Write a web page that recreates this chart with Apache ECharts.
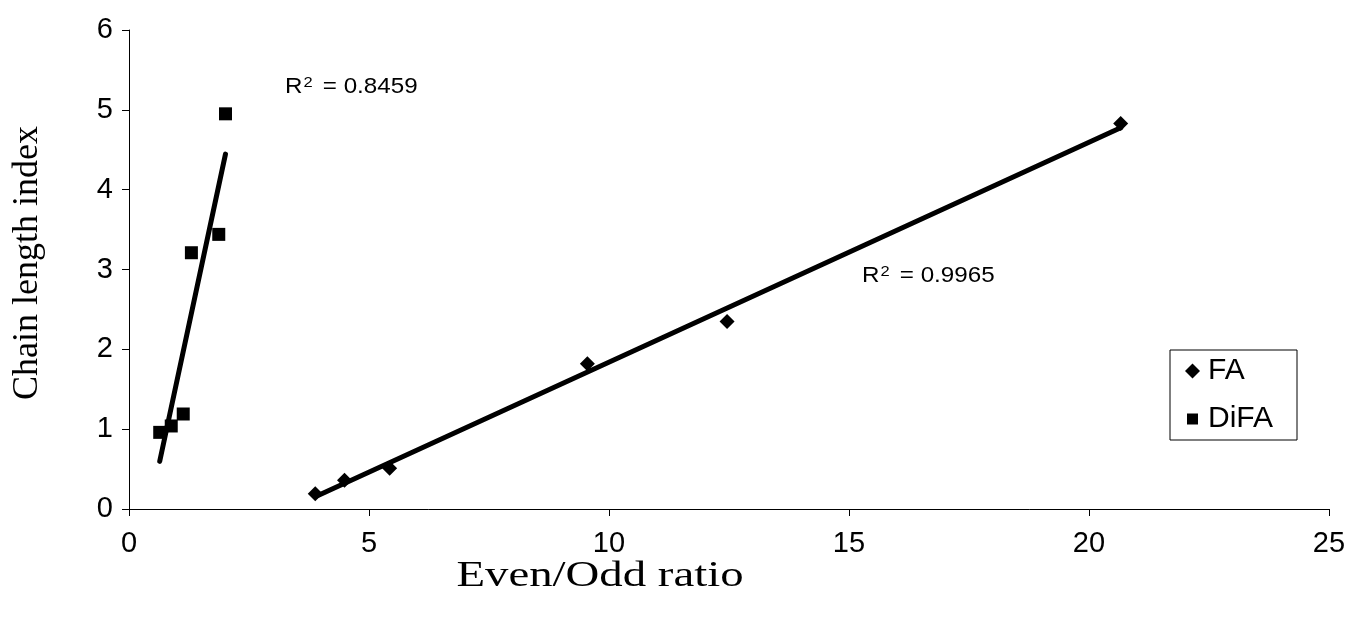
<!DOCTYPE html>
<html lang="en">
<head>
    <meta charset="UTF-8">
    <title>Chain length index vs Even/Odd ratio</title>
    <style>
        html, body { margin: 0; height: 100%; background: #fff; }
        #container { width: 1351px; height: 618px; }
    </style>
</head>
<body>
    <div id="container"></div>
    <script src="https://cdn.jsdelivr.net/npm/echarts@6/dist/echarts.min.js"></script>
    <script>
        // values
        var faX = [3.88, 4.49, 5.43, 9.55, 12.46, 20.66];
        var faY = [0.19, 0.36, 0.51, 1.82, 2.35, 4.83];
        var difaX = [0.64, 0.88, 1.13, 1.30, 1.87, 2.01];
        var difaY = [0.96, 1.04, 1.19, 3.21, 3.44, 4.95];
        var xTicks = [0, 5, 10, 15, 20, 25];
        var yTicks = [0, 1, 2, 3, 4, 5, 6];
        var r2Values = ['0.8459', '0.9965'];

        function pairs(xs, ys) {
            return xs.map(function (x, i) { return [x, ys[i]]; });
        }

        // linear least squares trendline between min and max x
        function trend(xs, ys) {
            var n = xs.length, mx = 0, my = 0;
            xs.forEach(function (x, i) { mx += x; my += ys[i]; });
            mx /= n; my /= n;
            var sxy = 0, sxx = 0;
            xs.forEach(function (x, i) { sxy += (x - mx) * (ys[i] - my); sxx += (x - mx) * (x - mx); });
            var b = sxy / sxx, a = my - b * mx;
            var x0 = Math.min.apply(null, xs), x1 = Math.max.apply(null, xs);
            return [[x0, a + b * x0], [x1, a + b * x1]];
        }

        var sans = 'Liberation Sans, Arial';
        var serif = 'Liberation Serif, Times New Roman';

        // the scanned figure is a bit stretched sideways, hence scaleX
        function r2Text(x, y, val) {
            return {
                type: 'text', x: x, y: y, scaleX: 1.1,
                style: {
                    text: '{r|R}{s|2}{r| = ' + val + '}',
                    rich: {
                        r: { fontSize: 22, lineHeight: 28, fill: '#000', fontFamily: sans },
                        s: { fontSize: 15, lineHeight: 16, verticalAlign: 'top', fill: '#000', fontFamily: sans, padding: [2, 3, 0, 1] }
                    }
                }
            };
        }

        var chart = echarts.init(document.getElementById('container'));

        var option = {
            animation: false,
            backgroundColor: '#fff',
            grid: { left: 129, right: 22, top: 30, bottom: 109 },
            legend: {
                data: [
                    { name: 'FA', icon: 'diamond', itemStyle: { color: '#000' } },
                    // small square inside a 15x15 box
                    { name: 'DiFA', icon: 'path://M0,0M15,15M2,2L13,2L13,13L2,13Z', itemStyle: { color: '#000' } }
                ],
                orient: 'vertical',
                left: 1170,
                top: 350,
                padding: [6, 24, 6, 15],
                itemGap: 18,
                itemWidth: 15,
                itemHeight: 15,
                borderColor: '#000',
                borderWidth: 1,
                borderRadius: 0,
                textStyle: { color: '#000', fontSize: 30, fontFamily: sans, padding: [0, 0, 0, 3] }
            },
            xAxis: {
                type: 'value',
                min: xTicks[0],
                max: xTicks[xTicks.length - 1],
                interval: 5,
                axisLine: { lineStyle: { color: '#000', width: 1 } },
                axisTick: { show: true, inside: false, length: 7, lineStyle: { color: '#000' } },
                axisLabel: { margin: 20, color: '#000', fontSize: 29, fontFamily: sans },
                splitLine: { show: false }
            },
            yAxis: {
                type: 'value',
                min: yTicks[0],
                max: yTicks[yTicks.length - 1],
                interval: 1,
                axisLine: { lineStyle: { color: '#000', width: 1 } },
                axisTick: { show: true, inside: false, length: 7, lineStyle: { color: '#000' } },
                axisLabel: { margin: 16, color: '#000', fontSize: 29, fontFamily: sans },
                splitLine: { show: false }
            },
            graphic: [
                {
                    type: 'text', x: 28, y: 263, rotation: Math.PI / 2,
                    style: { text: 'Chain length index', fill: '#000', fontSize: 36, fontFamily: serif, align: 'center', verticalAlign: 'middle' }
                },
                {
                    type: 'text', x: 600, y: 577, scaleX: 1.3,
                    style: { text: 'Even/Odd ratio', fill: '#000', fontSize: 36, fontFamily: serif, align: 'center', verticalAlign: 'middle' }
                },
                r2Text(285, 73, r2Values[0]),
                r2Text(862, 262, r2Values[1])
            ],
            series: [
                {
                    name: 'FA trend', type: 'line', data: trend(faX, faY),
                    symbol: 'none', silent: true,
                    lineStyle: { color: '#000', width: 5, cap: 'round' }
                },
                {
                    name: 'DiFA trend', type: 'line', data: trend(difaX, difaY),
                    symbol: 'none', silent: true,
                    lineStyle: { color: '#000', width: 5, cap: 'round' }
                },
                {
                    name: 'FA', type: 'scatter', data: pairs(faX, faY),
                    symbol: 'diamond', symbolSize: 15,
                    itemStyle: { color: '#000', opacity: 1 }
                },
                {
                    name: 'DiFA', type: 'scatter', data: pairs(difaX, difaY),
                    symbol: 'rect', symbolSize: 13,
                    itemStyle: { color: '#000', opacity: 1 }
                }
            ]
        };
        chart.setOption(option);
    </script>
</body>
</html>
